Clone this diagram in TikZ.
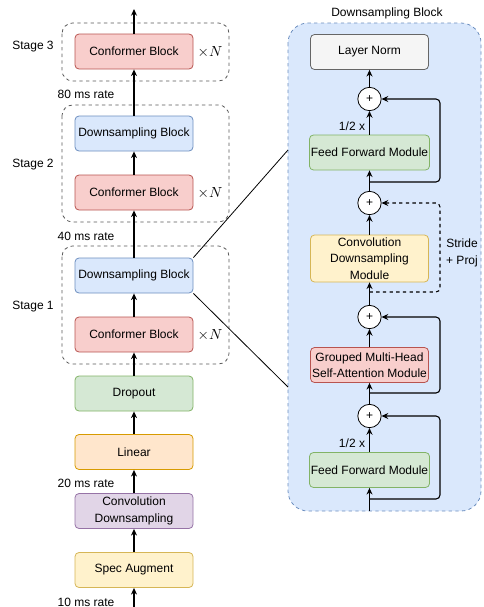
\documentclass[tikz,border=0pt]{standalone}
\usepackage{fontspec}
\setmainfont{Liberation Sans}
\usetikzlibrary{arrows.meta}

\definecolor{redfill}{HTML}{F8CECC}
\definecolor{redline}{HTML}{B85450}
\definecolor{bluefill}{HTML}{DAE8FC}
\definecolor{blueline}{HTML}{6C8EBF}
\definecolor{greenfill}{HTML}{D5E8D4}
\definecolor{greenline}{HTML}{82B366}
\definecolor{orangefill}{HTML}{FFE6CC}
\definecolor{orangeline}{HTML}{D79B00}
\definecolor{purplefill}{HTML}{E1D5E7}
\definecolor{purpleline}{HTML}{9673A6}
\definecolor{yellowfill}{HTML}{FFF2CC}
\definecolor{yellowline}{HTML}{D6B656}
\definecolor{greyfill}{HTML}{F5F5F5}
\definecolor{greyline}{HTML}{666666}

\begin{document}
\begin{tikzpicture}[x=0.75pt,y=-0.75pt,
  every node/.style={font=\fontsize{9}{12.4}\selectfont},
  blk/.style={draw, rounded corners=3pt, line width=0.6pt, align=center,
    minimum width=88.5pt, minimum height=26.25pt, inner sep=1pt},
  conf/.style={blk, fill=redfill, draw=redline},
  down/.style={blk, fill=bluefill, draw=blueline},
  plusnode/.style={circle, draw, fill=white, line width=0.6pt,
    minimum size=17.5pt, inner sep=0pt},
  arr/.style={-{Stealth[length=5pt,width=4.5pt]}, line width=0.8pt},
  thk/.style={arr, line width=1.5pt},
  skip/.style={arr, rounded corners=3pt},
  stagebox/.style={draw=black!65, dashed, dash pattern=on 2.5pt off 2.5pt,
    rounded corners=8pt, line width=0.6pt},
  timesn/.style={font=\fontsize{11}{12}\selectfont}]

  \useasboundingbox (0,0) rectangle (483,607);

  % left column
  \draw[stagebox] (62,23) rectangle (229,81);
  \draw[stagebox] (62,105) rectangle (229,222);
  \draw[stagebox] (62,246) rectangle (229,364);

  \node[conf] (conf3) at (134,51.5) {Conformer Block};
  \node[down] (down2) at (134,133.5) {Downsampling Block};
  \node[conf] (conf2) at (134,192.5) {Conformer Block};
  \node[down] (down1) at (134,275.5) {Downsampling Block};
  \node[conf] (conf1) at (134,334.5) {Conformer Block};
  \node[blk, fill=greenfill, draw=greenline] (drop) at (134,393.5) {Dropout};
  \node[blk, fill=orangefill, draw=orangeline] (lin) at (134,452) {Linear};
  \node[blk, fill=purplefill, draw=purpleline] (convds) at (134,511)
    {Convolution\\Downsampling};
  \node[blk, fill=yellowfill, draw=yellowline] (spec) at (134,570) {Spec Augment};

  \node (st3) at (33,47) {Stage 3};
  \node (st2) at (33,165) {Stage 2};
  \node (st1) at (33,307) {Stage 1};
  \node[timesn] (n3) at (210,52) {$\times N$};
  \node[timesn] (n2) at (210,193) {$\times N$};
  \node[timesn] (n1) at (210,335) {$\times N$};
  \node (r80) at (86,94) {80 ms rate};
  \node (r40) at (86,236) {40 ms rate};
  \node (r20) at (86,483) {20 ms rate};
  \node (r10) at (86,602) {10 ms rate};

  \coordinate (out) at (134,9);
  \coordinate (in) at (134,607);

  \draw[arr] (conf3) -- (out);
  \draw[arr] (down2) -- (conf3);
  \draw[arr] (conf2) -- (down2);
  \draw[arr] (down1) -- (conf2);
  \draw[thk] (conf1) -- (down1);
  \draw[thk] (drop) -- (conf1);
  \draw[thk] (lin) -- (drop);
  \draw[arr] (convds) -- (lin);
  \draw[arr] (spec) -- (convds);
  \draw[arr] (in) -- (spec);

  % right panel
  \draw[draw=blueline, fill=bluefill, dashed, dash pattern=on 2.5pt off 2.5pt,
    rounded corners=15pt, line width=0.6pt] (288,23) rectangle (481,511);
  \node (title) at (387,13) {Downsampling Block};

  \node[blk, fill=greyfill, draw=greyline] (ln) at (369.5,52) {Layer Norm};
  \node[plusnode] (p1) at (369.5,99) {+};
  \node[blk, fill=greenfill, draw=greenline] (ff1) at (369.5,152.5) {Feed Forward Module};
  \node[plusnode] (p2) at (369.5,203) {+};
  \node[blk, fill=yellowfill, draw=yellowline, minimum height=35.25pt] (cdm)
    at (369.5,258.5) {Convolution\\Downsampling\\Module};
  \node[plusnode] (p3) at (369.5,317) {+};
  \node[blk, fill=redfill, draw=redline] (mhsa) at (369.5,365)
    {Grouped Multi-Head\\Self-Attention Module};
  \node[plusnode] (p4) at (369.5,416) {+};
  \node[blk, fill=greenfill, draw=greenline] (ff2) at (369.5,470) {Feed Forward Module};

  \node (half1) at (352,126) {1/2 x};
  \node (half2) at (352,443) {1/2 x};
  \node[align=center] (stride) at (462,253) {Stride\\+ Proj};

  \coordinate (bot) at (369.5,511);
  \coordinate (s1) at (369.5,182);
  \coordinate (s2) at (369.5,292);
  \coordinate (s3) at (369.5,393);
  \coordinate (s4) at (369.5,499);

  \draw[arr] (p1) -- (ln);
  \draw[arr] (ff1) -- (p1);
  \draw[arr] (p2) -- (ff1);
  \draw[arr] (cdm) -- (p2);
  \draw[arr] (p3) -- (cdm);
  \draw[arr] (mhsa) -- (p3);
  \draw[arr] (p4) -- (mhsa);
  \draw[arr] (ff2) -- (p4);
  \draw[arr] (bot) -- (ff2);

  \draw[skip] (s1) -- (440,182) -- (440,99) -- (p1);
  \draw[skip, dashed, dash pattern=on 2.5pt off 2.5pt] (s2) -- (440,292) -- (440,203) -- (p2);
  \draw[skip] (s3) -- (440,393) -- (440,317) -- (p3);
  \draw[skip] (s4) -- (440,499) -- (440,416) -- (p4);

  % zoom lines
  \coordinate (zt) at (288,150);
  \coordinate (zb) at (288,387);
  \draw[line width=0.6pt] (down1.north east) -- (zt);
  \draw[line width=0.6pt] (down1.south east) -- (zb);
\end{tikzpicture}
\end{document}
